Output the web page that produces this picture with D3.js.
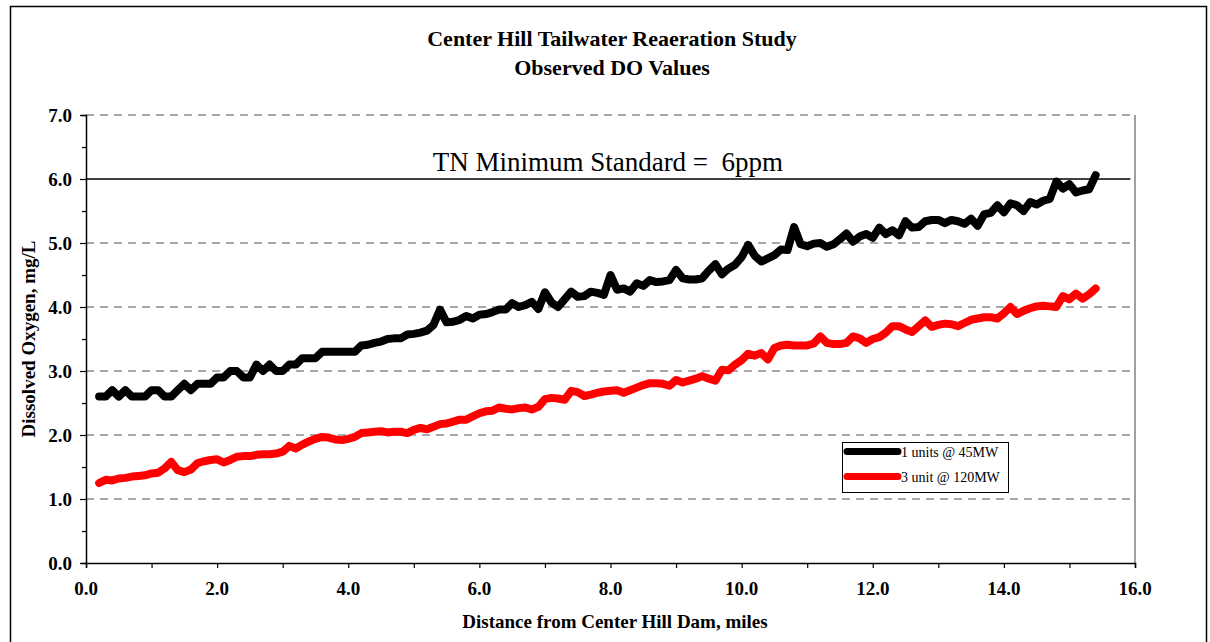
<!DOCTYPE html>
<html>
<head>
<meta charset="utf-8">
<script src="https://cdn.jsdelivr.net/npm/d3@7"></script>
<style>
  body { margin: 0; background: #fff; }
  svg text { font-family: "Liberation Serif", "Times New Roman", serif; }
</style>
</head>
<body>
<div id="chart"></div>
<script>
// chart values
const miles = [0.2,0.3,0.4,0.5,0.6,0.7,0.8,0.9,1.0,1.1,1.2,1.3,1.4,1.5,1.6,1.7,1.8,1.9,2.0,2.1,
  2.2,2.3,2.4,2.5,2.6,2.7,2.8,2.9,3.0,3.1,3.2,3.3,3.4,3.5,3.6,3.7,3.8,3.9,4.0,4.1,
  4.2,4.3,4.4,4.5,4.6,4.7,4.8,4.9,5.0,5.1,5.2,5.3,5.4,5.5,5.6,5.7,5.8,5.9,6.0,6.1,
  6.2,6.3,6.4,6.5,6.6,6.7,6.8,6.9,7.0,7.1,7.2,7.3,7.4,7.5,7.6,7.7,7.8,7.9,8.0,8.1,
  8.2,8.3,8.4,8.5,8.6,8.7,8.8,8.9,9.0,9.1,9.2,9.3,9.4,9.5,9.6,9.7,9.8,9.9,10.0,10.1,
  10.2,10.3,10.4,10.5,10.6,10.7,10.8,10.9,11.0,11.1,11.2,11.3,11.4,11.5,11.6,11.7,11.8,11.9,12.0,12.1,
  12.2,12.3,12.4,12.5,12.6,12.7,12.8,12.9,13.0,13.1,13.2,13.3,13.4,13.5,13.6,13.7,13.8,13.9,14.0,14.1,
  14.2,14.3,14.4,14.5,14.6,14.7,14.8,14.9,15.0,15.1,15.2,15.3,15.4]

const oneUnit = [2.6,2.6,2.7,2.6,2.7,2.6,2.6,2.6,2.7,2.7,2.6,2.6,2.7,2.8,2.7,2.8,2.8,2.8,2.9,2.9,
  3.0,3.0,2.9,2.9,3.1,3.0,3.1,3.0,3.0,3.1,3.1,3.2,3.2,3.2,3.3,3.3,3.3,3.3,3.3,3.3,
  3.4,3.41,3.44,3.46,3.5,3.51,3.51,3.57,3.58,3.6,3.63,3.72,3.96,3.76,3.77,3.8,3.86,3.82,3.88,3.89,
  3.92,3.96,3.96,4.06,4.0,4.03,4.08,3.97,4.23,4.07,4.0,4.12,4.24,4.16,4.17,4.24,4.22,4.19,4.5,4.27,
  4.29,4.24,4.37,4.33,4.42,4.39,4.4,4.42,4.58,4.45,4.43,4.43,4.45,4.57,4.67,4.51,4.6,4.66,4.78,4.97,
  4.8,4.71,4.76,4.81,4.9,4.89,5.25,4.98,4.95,4.99,5.0,4.94,4.98,5.06,5.15,5.02,5.1,5.14,5.08,5.24,
  5.14,5.2,5.12,5.34,5.24,5.25,5.34,5.36,5.36,5.31,5.36,5.34,5.3,5.38,5.27,5.45,5.47,5.59,5.48,5.62,
  5.59,5.5,5.64,5.6,5.66,5.69,5.96,5.85,5.92,5.79,5.82,5.84,6.06]

const threeUnits = [1.25,1.3,1.29,1.32,1.33,1.35,1.36,1.37,1.4,1.41,1.48,1.58,1.45,1.42,1.46,1.56,1.59,1.61,1.62,1.57,
  1.61,1.66,1.67,1.67,1.69,1.7,1.7,1.71,1.74,1.83,1.79,1.85,1.9,1.94,1.97,1.96,1.93,1.92,1.94,1.97,
  2.03,2.04,2.05,2.06,2.04,2.05,2.05,2.03,2.08,2.11,2.09,2.13,2.17,2.18,2.21,2.24,2.24,2.29,2.34,2.37,
  2.38,2.43,2.41,2.4,2.42,2.43,2.4,2.44,2.56,2.58,2.57,2.55,2.69,2.67,2.61,2.63,2.66,2.68,2.69,2.7,
  2.66,2.7,2.74,2.78,2.81,2.81,2.8,2.77,2.86,2.82,2.85,2.88,2.92,2.88,2.85,3.02,3.01,3.1,3.17,3.27,
  3.24,3.28,3.18,3.36,3.4,3.41,3.4,3.4,3.4,3.43,3.54,3.44,3.42,3.42,3.44,3.54,3.51,3.44,3.5,3.53,
  3.6,3.7,3.7,3.65,3.61,3.7,3.79,3.69,3.72,3.74,3.73,3.7,3.75,3.8,3.82,3.84,3.84,3.82,3.9,4.0,
  3.89,3.94,3.98,4.01,4.02,4.01,4.0,4.17,4.12,4.21,4.13,4.2,4.29]

const seriesNames = ["1 units @ 45MW", "3 unit @ 120MW"]
const seriesColors = ["#000000", "#ff0000"]
const xTickValues = [0, 2, 4, 6, 8, 10, 12, 14, 16]
const yTickValues = [0, 1, 2, 3, 4, 5, 6, 7]
const standardValue = 6

const W = 1210, H = 642
const margin = {top: 115, right: 75, bottom: 79, left: 86}
const width = W - margin.left - margin.right
const height = H - margin.top - margin.bottom

const svg = d3.select("#chart")
    .append("svg")
    .attr("width", W)
    .attr("height", H)

// outer frame
svg.append("rect")
    .attr("x", 10.5).attr("y", 6.5)
    .attr("width", 1196).attr("height", 660)
    .attr("fill", "none").attr("stroke", "#000").attr("stroke-width", 1.5)

const g = svg.append("g")
    .attr("transform", "translate(" + margin.left + "," + margin.top + ")")

const x = d3.scaleLinear().domain([0, 16]).range([0, width])
const y = d3.scaleLinear().domain([0, 7]).range([height, 0])

// gridlines (dashed), the 6.0 one is the standard line
g.selectAll(".grid")
    .data(yTickValues.filter(v => v > 0 && v !== standardValue))
    .enter().append("line")
    .attr("class", "grid")
    .attr("x1", 0).attr("x2", width)
    .attr("y1", d => y(d)).attr("y2", d => y(d))
    .attr("stroke", "#555").attr("stroke-width", 1.2)
    .attr("stroke-dasharray", "8,6")

// right border
g.append("line")
    .attr("x1", width).attr("x2", width)
    .attr("y1", 0).attr("y2", height)
    .attr("stroke", "#808080").attr("stroke-width", 1.5)

g.append("line")
    .attr("x1", 0).attr("x2", x(15.93))
    .attr("y1", y(standardValue)).attr("y2", y(standardValue))
    .attr("stroke", "#000").attr("stroke-width", 1.5)

g.append("text")
    .attr("x", x(7.96)).attr("y", y(standardValue) - 8)
    .attr("text-anchor", "middle")
    .attr("font-size", 27)
    .attr("xml:space", "preserve")
    .text("TN Minimum Standard =  6ppm")

// axes
const xAxis = g.append("g")
    .attr("transform", "translate(0," + height + ")")
    .call(d3.axisBottom(x).tickValues(d3.range(0, 17, 1)).tickSize(5).tickFormat(""))
xAxis.select(".domain").attr("stroke-width", 1.5)
xAxis.selectAll(".tick line").attr("stroke-width", 1.2)

g.selectAll(".xlab")
    .data(xTickValues)
    .enter().append("text")
    .attr("x", d => x(d)).attr("y", height + 32)
    .attr("text-anchor", "middle")
    .attr("font-size", 19).attr("font-weight", "bold")
    .text(d => d.toFixed(1))

const yAxis = g.append("g")
    .call(d3.axisLeft(y).tickValues(d3.range(0, 7.5, 0.5)).tickSize(5).tickFormat(""))
yAxis.select(".domain").attr("stroke-width", 1.5)
yAxis.selectAll(".tick line")
    .attr("x2", d => Number.isInteger(d) ? -6 : -4)
    .attr("stroke-width", 1.2)

g.selectAll(".ylab")
    .data(yTickValues)
    .enter().append("text")
    .attr("x", -14).attr("y", d => y(d))
    .attr("dy", "0.35em")
    .attr("text-anchor", "end")
    .attr("font-size", 19).attr("font-weight", "bold")
    .text(d => d.toFixed(1))

// data lines
const line = d3.line()
    .x((d, i) => x(miles[i]))
    .y(d => y(d))

;[oneUnit, threeUnits].forEach((vals, i) => {
    g.append("path")
        .datum(vals)
        .attr("d", line)
        .attr("fill", "none")
        .attr("stroke", seriesColors[i])
        .attr("stroke-width", 8)
        .attr("stroke-linejoin", "round")
        .attr("stroke-linecap", "round")
})

// titles
svg.append("text")
    .attr("x", 612).attr("y", 46)
    .attr("text-anchor", "middle")
    .attr("font-size", 22).attr("font-weight", "bold")
    .text("Center Hill Tailwater Reaeration Study")
svg.append("text")
    .attr("x", 612).attr("y", 75)
    .attr("text-anchor", "middle")
    .attr("font-size", 22).attr("font-weight", "bold")
    .text("Observed DO Values")

svg.append("text")
    .attr("x", 615).attr("y", 628)
    .attr("text-anchor", "middle")
    .attr("font-size", 19).attr("font-weight", "bold")
    .text("Distance from Center Hill Dam, miles")

svg.append("text")
    .attr("transform", "translate(35,339) rotate(-90)")
    .attr("text-anchor", "middle")
    .attr("font-size", 19).attr("font-weight", "bold")
    .text("Dissolved Oxygen, mg/L")

// legend
const legend = svg.append("g").attr("transform", "translate(842,442)")
legend.append("rect")
    .attr("x", 0.5).attr("y", 0.5)
    .attr("width", 166).attr("height", 50)
    .attr("fill", "#fff").attr("stroke", "#000").attr("stroke-width", 1)
seriesNames.forEach((name, i) => {
    const ly = 9.5 + i * 25
    legend.append("line")
        .attr("x1", 5).attr("x2", 56)
        .attr("y1", ly).attr("y2", ly)
        .attr("stroke", seriesColors[i]).attr("stroke-width", 7)
        .attr("stroke-linecap", "round")
    legend.append("text")
        .attr("x", 59).attr("y", ly + 5)
        .attr("font-size", 14)
        .text(name)
})
</script>
</body>
</html>
